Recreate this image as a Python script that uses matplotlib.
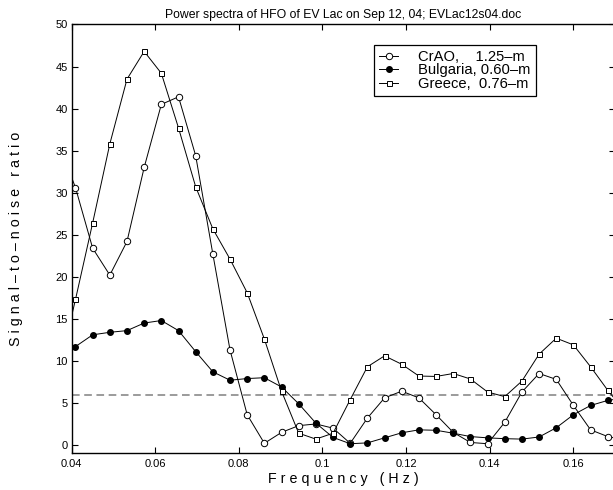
import numpy as np
import matplotlib
matplotlib.use("Agg")
import matplotlib.pyplot as plt

plt.rcParams['font.family'] = ['Liberation Sans', 'DejaVu Sans']

# frequency grid (Hz)
freq = [0.03679, 0.0409, 0.04501, 0.04912, 0.05323, 0.05734, 0.06145, 0.06556,
        0.06967, 0.07378, 0.07789, 0.082, 0.08611, 0.09022, 0.09433, 0.09844,
        0.10255, 0.10666, 0.11077, 0.11488, 0.11899, 0.1231, 0.12721, 0.13132,
        0.13543, 0.13954, 0.14365, 0.14776, 0.15187, 0.15598, 0.16009, 0.1642,
        0.16831, 0.17242]

crao = [36.0, 30.6, 23.4, 20.2, 24.2, 33.0, 40.5, 41.4, 34.4, 22.7, 11.3, 3.6,
        0.2, 1.5, 2.3, 2.5, 2.0, 0.2, 3.2, 5.6, 6.4, 5.6, 3.6, 1.5, 0.3, 0.15,
        2.7, 6.3, 8.5, 7.8, 4.7, 1.8, 1.0, 0.6]
bulgaria = [10.0, 11.7, 13.1, 13.4, 13.6, 14.5, 14.8, 13.6, 11.1, 8.7, 7.7, 7.9,
            8.0, 6.9, 4.9, 2.6, 0.9, 0.15, 0.25, 0.85, 1.45, 1.8, 1.75, 1.4, 1.0,
            0.85, 0.75, 0.7, 0.95, 2.05, 3.6, 4.7, 5.3, 5.6]
greece = [8.5, 17.3, 26.4, 35.8, 43.5, 46.8, 44.2, 37.7, 30.7, 25.7, 22.1, 18.1,
          12.6, 6.4, 1.4, 0.7, 1.4, 5.4, 9.3, 10.6, 9.6, 8.2, 8.15, 8.5, 7.85,
          6.3, 5.75, 7.6, 10.8, 12.7, 11.9, 9.3, 6.5, 4.0]

threshold = 6.0

labels = ['CrAO,    1.25\u2013m', 'Bulgaria, 0.60\u2013m', 'Greece,  0.76\u2013m']
xticks = [0.04, 0.06, 0.08, 0.10, 0.12, 0.14, 0.16]
xticklabels = ['0.04', '0.06', '0.08', '0.1', '0.12', '0.14', '0.16']
yticks = [0, 5, 10, 15, 20, 25, 30, 35, 40, 45, 50]

fig = plt.figure(figsize=(6.13, 4.9), dpi=100)
ax = fig.add_axes([0.117, 0.0747, 0.886, 0.8753])

ax.axhline(threshold, color='#808080', lw=1.1, dashes=(5, 3))
ax.plot(freq, crao, '-o', color='k', lw=0.7, ms=4.6, mfc='white', mec='k', mew=0.7,
        label=labels[0])
ax.plot(freq, bulgaria, '-o', color='k', lw=0.7, ms=4.0, mfc='k', mec='k',
        label=labels[1])
ax.plot(freq, greece, '-s', color='k', lw=0.7, ms=3.6, mfc='white', mec='k', mew=0.7,
        label=labels[2])

ax.set_xlim(0.04, 0.17)
ax.set_ylim(-1, 50)
ax.set_xticks(xticks)
ax.set_xticklabels(xticklabels)
ax.set_yticks(yticks)
ax.tick_params(direction='in', top=True, right=True, length=4, width=0.8,
               labelsize=8)
ax.tick_params(axis='y', pad=3)
ax.tick_params(axis='x', pad=4)
for s in ax.spines.values():
    s.set_linewidth(1.0)

ax.set_title('Power spectra of HFO of EV Lac on Sep 12, 04; EVLac12s04.doc',
             fontsize=8.8, pad=5)
ax.set_xlabel('F r e q u e n c y   ( H z )', fontsize=10.3)
ax.xaxis.set_label_coords(0.5, -0.043)
ax.set_ylabel('S i g n a l \u2013 t o \u2013 n o i s e   r a t i o', fontsize=10.3)
ax.yaxis.set_label_coords(-0.089, 0.5)

leg = ax.legend(loc='upper right', bbox_to_anchor=(536 / 613, 445 / 490),
                bbox_transform=fig.transFigure, fontsize=10.6, numpoints=1,
                fancybox=False, edgecolor='k', framealpha=1, borderpad=0.35,
                handlelength=1.25, handletextpad=1.4, labelspacing=-0.05,
                borderaxespad=0)
leg.get_frame().set_linewidth(0.9)

fig.savefig('out.png', dpi=100)
